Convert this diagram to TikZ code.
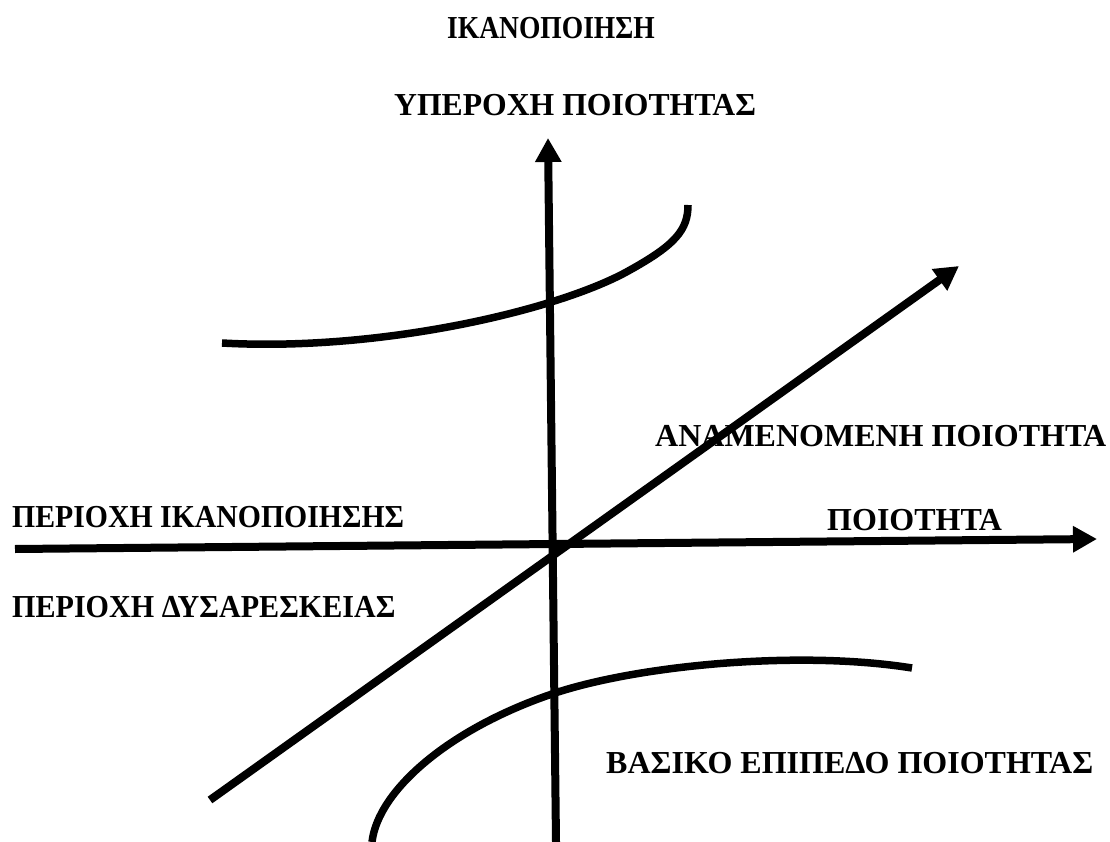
\documentclass[tikz,border=0pt]{standalone}
\usepackage{fontspec}
\setmainfont{Liberation Serif}
\usetikzlibrary{arrows.meta}
\newcommand{\lx}[2]{\scalebox{#1}[1]{#2}}
\begin{document}
\begin{tikzpicture}[x=1pt,y=-1pt,
  axis/.style={line width=8pt,-{Triangle[length=24pt,width=25pt]}},
  curve/.style={line width=7.5pt},
  lbl/.style={font=\fontsize{32}{36}\selectfont\bfseries,inner sep=0pt,anchor=base west}]
\useasboundingbox (0,0) rectangle (1110,842);
% axes
\coordinate (vb) at (556,842);
\coordinate (vt) at (548,138);
\coordinate (hl) at (15,549);
\coordinate (hr) at (1097,539);
\coordinate (dl) at (210,800);
\coordinate (dr) at (959,266);
\draw[axis] (vb) -- (vt);
\draw[axis] (hl) -- (hr);
\draw[axis] (dl) -- (dr);
% curves
\coordinate (ua) at (222,343);
\coordinate (ub) at (688,205);
\draw[curve] (ua) .. controls (380,352) and (560,310) .. (630,270) .. controls (675,245) and (688,230) .. (ub);
\coordinate (la) at (912,668);
\coordinate (lb) at (372,842);
\draw[curve] (la) .. controls (800,650) and (640,665) .. (555,693) .. controls (450,728) and (378,790) .. (lb);
% labels
\node[lbl] (t1) at (447,39) {\lx{0.86}{ΙΚΑΝΟΠΟΙΗΣΗ}};
\node[lbl] (t2) at (394,116) {\lx{0.99}{ΥΠΕΡΟΧΗ ΠΟΙΟΤΗΤΑΣ}};
\node[lbl] (t3) at (655,446) {ΑΝΑΜΕΝΟΜΕΝΗ ΠΟΙΟΤΗΤΑ};
\node[lbl] (t4) at (12,527) {\lx{0.93}{ΠΕΡΙΟΧΗ ΙΚΑΝΟΠΟΙΗΣΗΣ}};
\node[lbl] (t5) at (827,530) {ΠΟΙΟΤΗΤΑ};
\node[lbl] (t6) at (12,617) {\lx{0.94}{ΠΕΡΙΟΧΗ ΔΥΣΑΡΕΣΚΕΙΑΣ}};
\node[lbl] (t7) at (606,773) {ΒΑΣΙΚΟ ΕΠΙΠΕΔΟ ΠΟΙΟΤΗΤΑΣ};
\end{tikzpicture}
\end{document}
